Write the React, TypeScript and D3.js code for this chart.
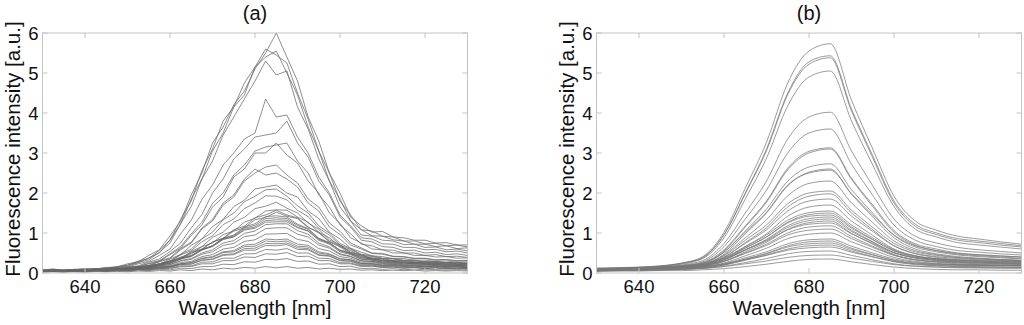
import React from "react";
import * as d3 from "d3";

// wavelength samples (nm)
const wavelengthsA = [630, 632.5, 635, 637.5, 640, 642.5, 645, 647.5, 650, 652.5, 655, 657.5, 660, 662.5, 665, 667.5, 670, 672.5, 675, 677.5, 680, 682.5, 685, 687.5, 690, 692.5, 695, 697.5, 700, 702.5, 705, 707.5, 710, 712.5, 715, 717.5, 720, 722.5, 725, 727.5, 730];
const wavelengthsB = [630, 635, 640, 645, 650, 655, 660, 665, 670, 675, 680, 685, 690, 695, 700, 705, 710, 715, 720, 725, 730];

// (a) raw spectra
const spectraA = [
  [.08,.10,.07,.09,.11,.10,.14,.15,.23,.28,.44,.58,.93,1.30,1.95,2.50,3.25,3.65,4.20,4.55,5.10,5.50,6.00,5.40,4.80,3.90,3.30,2.50,2.00,1.40,1.18,1.02,1.04,.90,.88,.82,.82,.75,.76,.70,.70],
  [.07,.09,.08,.09,.08,.11,.11,.16,.19,.30,.36,.57,.82,1.34,1.80,2.56,3.10,3.80,4.15,4.75,5.15,5.60,5.45,5.25,4.50,3.85,3.05,2.50,1.80,1.45,1.08,1.05,.92,.90,.80,.80,.73,.74,.68,.70,.65],
  [.06,.07,.06,.08,.10,.10,.13,.14,.20,.26,.38,.50,.83,1.22,1.85,2.35,3.05,3.50,4.15,4.45,5.15,5.40,5.55,5.00,4.45,3.65,3.05,2.30,1.85,1.30,1.08,.93,.92,.83,.80,.72,.72,.66,.68,.61,.63],
  [.05,.07,.06,.07,.08,.10,.09,.14,.17,.26,.33,.52,.75,1.24,1.66,2.35,2.80,3.45,3.90,4.35,4.80,5.30,4.95,5.05,4.15,3.60,2.85,2.30,1.65,1.30,.95,.92,.82,.80,.71,.72,.64,.65,.58,.60,.55],
  [.06,.07,.05,.08,.07,.10,.09,.13,.15,.23,.29,.44,.60,.98,1.32,1.84,2.20,2.70,3.00,3.35,3.50,4.35,3.90,3.95,3.40,3.00,2.40,2.00,1.45,1.18,.88,.85,.73,.72,.64,.64,.58,.59,.53,.55,.50],
  [.05,.06,.05,.07,.08,.07,.10,.10,.15,.18,.27,.35,.54,.75,1.13,1.46,2.00,2.35,2.85,3.10,3.40,3.45,3.50,3.80,3.25,2.90,2.30,1.95,1.40,1.15,.82,.78,.66,.64,.56,.57,.50,.52,.46,.48,.44],
  [.05,.05,.06,.06,.08,.07,.10,.09,.14,.16,.24,.31,.48,.66,.98,1.27,1.74,2.00,2.45,2.70,3.05,3.15,3.20,3.25,2.80,2.50,1.95,1.65,1.20,.98,.72,.68,.58,.57,.50,.50,.44,.46,.41,.42,.39],
  [.04,.06,.05,.05,.07,.06,.09,.09,.13,.15,.23,.29,.46,.62,.94,1.20,1.65,1.90,2.40,2.60,3.00,3.00,3.25,2.95,2.75,2.30,2.00,1.50,1.24,.88,.75,.60,.58,.50,.50,.44,.44,.40,.41,.37,.38],
  [.04,.05,.04,.06,.05,.08,.07,.10,.10,.15,.18,.28,.36,.58,.75,1.10,1.30,1.70,1.90,2.30,2.50,2.65,2.70,2.45,2.25,1.85,1.65,1.25,1.04,.75,.63,.50,.49,.42,.41,.37,.37,.33,.34,.31,.32],
  [.05,.06,.05,.07,.06,.08,.08,.11,.11,.16,.19,.30,.38,.61,.77,1.12,1.34,1.75,1.95,2.35,2.60,2.45,2.50,2.35,2.15,1.75,1.55,1.15,.96,.70,.60,.49,.47,.41,.40,.36,.36,.32,.33,.30,.31],
  [.04,.05,.04,.06,.06,.07,.08,.08,.11,.12,.18,.22,.35,.46,.69,.85,1.16,1.34,1.66,1.82,2.10,2.15,2.20,2.00,1.90,1.55,1.36,1.02,.85,.62,.52,.43,.41,.36,.36,.32,.32,.29,.30,.27,.28],
  [.03,.04,.05,.04,.06,.06,.07,.09,.09,.13,.15,.23,.30,.47,.60,.85,1.02,1.33,1.50,1.78,1.92,2.08,2.10,1.92,1.68,1.50,1.18,1.00,.74,.61,.47,.43,.37,.36,.32,.32,.28,.29,.26,.27,.25],
  [.05,.06,.05,.07,.06,.08,.07,.10,.10,.14,.16,.23,.29,.45,.56,.78,.93,1.21,1.35,1.61,1.75,1.93,1.92,1.83,1.57,1.41,1.12,.95,.70,.59,.45,.41,.36,.35,.31,.31,.27,.28,.25,.26,.24],
  [.04,.05,.05,.06,.05,.07,.08,.08,.11,.11,.16,.19,.28,.36,.54,.66,.89,1.02,1.27,1.39,1.61,1.67,1.77,1.62,1.50,1.25,1.09,.83,.70,.52,.45,.37,.36,.31,.31,.27,.28,.25,.26,.23,.24],
  [.06,.07,.06,.08,.07,.09,.08,.11,.11,.15,.16,.23,.28,.40,.48,.66,.75,.96,1.05,1.27,1.37,1.55,1.58,1.57,1.40,1.27,1.02,.88,.66,.56,.41,.38,.31,.30,.26,.26,.23,.24,.21,.22,.20],
  [.05,.06,.06,.05,.08,.07,.09,.08,.12,.12,.17,.20,.30,.35,.50,.59,.78,.87,1.08,1.17,1.38,1.45,1.57,1.45,1.38,1.15,1.00,.78,.65,.48,.42,.33,.31,.27,.27,.23,.24,.21,.22,.19,.21],
  [.07,.06,.07,.06,.09,.08,.10,.09,.13,.14,.19,.22,.31,.37,.52,.60,.77,.86,1.05,1.13,1.33,1.39,1.52,1.42,1.36,1.14,1.02,.79,.68,.51,.45,.35,.34,.29,.29,.26,.27,.24,.25,.22,.24],
  [.04,.05,.04,.06,.05,.08,.06,.09,.09,.13,.14,.20,.24,.35,.42,.58,.68,.87,.95,1.15,1.23,1.41,1.43,1.40,1.22,1.11,.87,.76,.56,.48,.35,.33,.27,.27,.23,.24,.21,.22,.19,.20,.18],
  [.06,.07,.06,.07,.06,.09,.07,.10,.10,.14,.15,.21,.25,.37,.43,.59,.68,.86,.93,1.12,1.19,1.36,1.38,1.36,1.19,1.09,.86,.75,.57,.49,.38,.36,.30,.30,.26,.27,.24,.25,.22,.23,.21],
  [.05,.06,.05,.07,.06,.08,.07,.10,.09,.13,.14,.20,.24,.35,.41,.57,.66,.84,.91,1.09,1.15,1.31,1.33,1.32,1.15,1.05,.82,.72,.53,.46,.34,.32,.27,.27,.23,.24,.21,.22,.19,.20,.17],
  [.08,.09,.07,.09,.08,.10,.09,.12,.12,.16,.17,.23,.27,.38,.44,.59,.67,.84,.90,1.07,1.12,1.27,1.28,1.28,1.13,1.05,.84,.74,.57,.50,.38,.36,.30,.31,.27,.28,.25,.26,.23,.25,.22],
  [.04,.05,.04,.06,.05,.07,.06,.09,.08,.12,.12,.18,.21,.31,.36,.50,.58,.75,.81,.99,1.05,1.21,1.23,1.23,1.06,.97,.75,.65,.48,.42,.31,.29,.24,.24,.20,.21,.18,.19,.16,.18,.15],
  [.06,.07,.06,.08,.07,.09,.08,.10,.09,.13,.13,.18,.21,.30,.34,.47,.53,.69,.74,.91,.95,1.11,1.13,1.13,.97,.90,.70,.62,.46,.41,.30,.29,.25,.25,.22,.23,.20,.21,.18,.20,.17],
  [.05,.06,.05,.07,.06,.08,.07,.09,.08,.11,.11,.16,.18,.26,.29,.41,.46,.60,.64,.79,.83,.97,.98,.99,.84,.79,.61,.55,.41,.37,.27,.27,.22,.22,.19,.20,.17,.18,.16,.17,.15],
  [.04,.05,.04,.06,.05,.07,.06,.08,.07,.10,.10,.14,.16,.23,.26,.37,.41,.53,.56,.70,.72,.85,.83,.85,.72,.69,.53,.48,.36,.33,.24,.23,.19,.20,.17,.18,.15,.17,.14,.16,.13],
  [.06,.07,.05,.07,.06,.08,.06,.09,.08,.11,.11,.15,.17,.23,.26,.36,.39,.51,.53,.66,.67,.80,.78,.80,.67,.65,.50,.46,.35,.33,.24,.24,.20,.21,.18,.19,.16,.18,.15,.17,.14],
  [.03,.04,.03,.05,.04,.06,.05,.07,.06,.09,.09,.13,.14,.21,.22,.32,.35,.46,.48,.61,.62,.74,.73,.75,.63,.61,.46,.43,.31,.29,.20,.20,.16,.17,.14,.15,.12,.14,.11,.13,.11],
  [.05,.06,.04,.07,.05,.07,.06,.08,.07,.10,.10,.14,.15,.22,.23,.32,.34,.44,.46,.57,.57,.69,.68,.71,.59,.58,.44,.42,.31,.30,.22,.22,.18,.19,.16,.17,.15,.16,.14,.15,.13],
  [.04,.05,.03,.06,.04,.06,.05,.07,.06,.09,.08,.12,.12,.18,.18,.27,.28,.37,.37,.48,.48,.59,.57,.61,.50,.50,.37,.36,.26,.25,.18,.18,.14,.15,.12,.14,.11,.13,.10,.12,.10],
  [.05,.06,.04,.06,.05,.07,.05,.08,.06,.09,.08,.11,.11,.16,.16,.23,.23,.31,.31,.40,.39,.48,.47,.51,.41,.42,.31,.31,.23,.23,.16,.17,.14,.15,.12,.14,.11,.13,.11,.12,.10],
  [.03,.04,.03,.05,.03,.05,.04,.06,.05,.07,.06,.09,.08,.12,.11,.16,.16,.22,.21,.28,.27,.34,.33,.36,.29,.30,.22,.23,.16,.17,.11,.12,.09,.11,.08,.10,.08,.09,.07,.09,.07],
  [.02,.03,.02,.03,.02,.04,.03,.04,.03,.05,.04,.06,.05,.08,.06,.10,.08,.12,.10,.14,.12,.16,.13,.16,.12,.14,.10,.12,.09,.10,.07,.08,.06,.07,.06,.07,.05,.06,.05,.06,.05],
];

// (b) smoothed spectra
const spectraB = [
  [.12,.13,.15,.18,.25,.41,1.02,2.12,3.27,4.75,5.55,5.73,4.32,3.10,1.92,1.30,1.07,.92,.85,.78,.72],
  [.10,.12,.14,.17,.24,.39,.96,2.00,3.10,4.50,5.28,5.43,4.10,2.93,1.80,1.22,1.00,.86,.80,.74,.68],
  [.11,.12,.14,.17,.24,.38,.95,1.98,3.06,4.46,5.22,5.38,4.05,2.88,1.75,1.17,.96,.82,.76,.70,.65],
  [.09,.10,.12,.16,.22,.36,.88,1.85,2.87,4.18,4.90,5.05,3.80,2.70,1.66,1.10,.90,.76,.70,.65,.60],
  [.10,.11,.13,.15,.20,.31,.74,1.50,2.30,3.35,3.90,4.02,3.05,2.18,1.35,.92,.75,.64,.58,.54,.50],
  [.08,.09,.11,.13,.18,.28,.66,1.35,2.07,3.00,3.50,3.60,2.72,1.94,1.20,.82,.66,.56,.52,.48,.45],
  [.10,.11,.12,.14,.18,.26,.58,1.18,1.80,2.62,3.04,3.13,2.37,1.70,1.06,.73,.60,.50,.46,.43,.40],
  [.07,.08,.10,.12,.16,.24,.55,1.15,1.77,2.58,3.00,3.10,2.34,1.66,1.02,.70,.56,.47,.43,.40,.37],
  [.09,.10,.11,.13,.17,.23,.52,1.05,1.60,2.30,2.65,2.73,2.08,1.50,.94,.65,.53,.45,.41,.38,.35],
  [.06,.07,.09,.11,.14,.20,.47,.98,1.50,2.18,2.52,2.60,1.97,1.40,.88,.60,.48,.41,.37,.34,.32],
  [.11,.12,.13,.15,.18,.25,.52,1.02,1.52,2.20,2.50,2.57,1.98,1.45,.95,.68,.56,.49,.45,.42,.40],
  [.08,.09,.10,.12,.15,.21,.45,.88,1.33,1.93,2.24,2.30,1.75,1.26,.80,.56,.46,.39,.36,.33,.31],
  [.10,.11,.12,.13,.16,.22,.43,.82,1.20,1.73,2.00,2.05,1.57,1.14,.74,.53,.44,.38,.35,.33,.31],
  [.07,.08,.09,.11,.14,.19,.39,.76,1.13,1.65,1.92,1.98,1.50,1.08,.68,.48,.39,.33,.30,.28,.26],
  [.09,.10,.11,.12,.15,.21,.40,.74,1.08,1.55,1.80,1.85,1.42,1.04,.68,.49,.41,.36,.33,.31,.29],
  [.06,.07,.08,.10,.13,.18,.35,.66,.98,1.42,1.65,1.70,1.30,.94,.60,.43,.35,.30,.28,.26,.24],
  [.10,.11,.12,.13,.16,.22,.38,.66,.95,1.32,1.51,1.55,1.20,.88,.58,.43,.36,.32,.30,.28,.27],
  [.08,.09,.10,.11,.14,.19,.34,.62,.90,1.27,1.46,1.50,1.15,.84,.55,.40,.33,.29,.27,.25,.24],
  [.11,.12,.13,.14,.17,.22,.37,.63,.90,1.25,1.42,1.45,1.12,.83,.56,.42,.36,.33,.31,.30,.29],
  [.07,.08,.09,.10,.13,.18,.32,.58,.84,1.18,1.36,1.40,1.07,.78,.51,.37,.31,.27,.25,.23,.22],
  [.09,.10,.11,.12,.14,.19,.33,.58,.82,1.14,1.31,1.35,1.04,.77,.51,.38,.32,.28,.26,.25,.24],
  [.05,.06,.07,.08,.11,.16,.29,.53,.77,1.09,1.26,1.30,.99,.72,.46,.33,.27,.23,.21,.20,.19],
  [.12,.12,.13,.14,.16,.21,.34,.57,.80,1.08,1.22,1.25,.98,.74,.50,.39,.34,.31,.30,.29,.28],
  [.08,.09,.10,.11,.13,.17,.29,.50,.72,1.00,1.15,1.18,.91,.67,.45,.33,.28,.25,.23,.22,.21],
  [.10,.10,.11,.12,.14,.18,.29,.49,.69,.95,1.07,1.10,.86,.64,.44,.33,.29,.26,.25,.24,.23],
  [.06,.07,.08,.09,.11,.15,.25,.43,.62,.86,.97,1.00,.78,.58,.39,.29,.24,.21,.20,.19,.18],
  [.09,.09,.10,.11,.12,.15,.23,.38,.53,.73,.83,.85,.67,.50,.35,.27,.23,.21,.20,.19,.18],
  [.05,.06,.06,.07,.09,.12,.20,.34,.49,.68,.78,.80,.62,.46,.31,.23,.19,.17,.16,.15,.14],
  [.10,.10,.11,.11,.13,.15,.22,.35,.48,.65,.73,.75,.59,.45,.32,.25,.22,.20,.19,.19,.18],
  [.07,.07,.08,.09,.10,.13,.20,.32,.45,.60,.68,.70,.55,.41,.28,.21,.18,.16,.15,.15,.14],
  [.11,.11,.12,.12,.13,.16,.22,.33,.44,.57,.63,.65,.52,.40,.29,.23,.21,.19,.19,.18,.18],
  [.06,.07,.07,.08,.09,.11,.17,.26,.36,.48,.54,.55,.44,.33,.23,.17,.15,.13,.13,.12,.12],
  [.08,.08,.09,.09,.10,.12,.16,.23,.30,.39,.44,.45,.37,.29,.21,.17,.15,.14,.13,.13,.13],
  [.04,.05,.05,.06,.06,.08,.11,.16,.22,.29,.34,.35,.28,.21,.15,.11,.09,.08,.08,.07,.07],
];

const xTicks = [640, 660, 680, 700, 720];
const yTicks = [0, 1, 2, 3, 4, 5, 6];
const xLabel = "Wavelength [nm]";
const yLabel = "Fluorescence intensity [a.u.]";

const W = 1024;
const H = 325;
const top = 33;
const bottom = 273;
const font = "'Liberation Sans', Arial, Helvetica, sans-serif";

function Panel(props: {
  id: string;
  left: number;
  right: number;
  title: string;
  wl: number[];
  data: number[][];
  smooth: boolean;
  stroke: string;
}) {
  const { id, left, right, title, wl, data, smooth, stroke } = props;
  const x = d3.scaleLinear().domain([630, 730]).range([left, right]);
  const y = d3.scaleLinear().domain([0, 6]).range([bottom, top]);

  const line = d3
    .line<number>()
    .x((d, i) => x(wl[i]))
    .y((d) => y(d))
    .curve(smooth ? d3.curveMonotoneX : d3.curveLinear);

  const tick = 5;
  const boxColor = "#c4c4c4";

  return (
    <g>
      <defs>
        <clipPath id={id}>
          <rect x={left} y={top} width={right - left} height={bottom - top} />
        </clipPath>
      </defs>
      <g clipPath={`url(#${id})`}>
        {data.map((s, i) => (
          <path key={i} d={line(s) || ""} fill="none" stroke={stroke} strokeWidth={0.75} />
        ))}
      </g>
      {/* box */}
      <rect x={left} y={top} width={right - left} height={bottom - top} fill="none" stroke={boxColor} strokeWidth={1} />
      {xTicks.map((t) => (
        <g key={"x" + t}>
          <line x1={x(t)} x2={x(t)} y1={bottom} y2={bottom - tick} stroke={boxColor} />
          <line x1={x(t)} x2={x(t)} y1={top} y2={top + tick} stroke={boxColor} />
          <text x={x(t)} y={293} textAnchor="middle" fontSize={18.5} fontFamily={font} fill="#111">
            {t}
          </text>
        </g>
      ))}
      {yTicks.map((t) => (
        <g key={"y" + t}>
          <line x1={left} x2={left + tick} y1={y(t)} y2={y(t)} stroke={boxColor} />
          <line x1={right} x2={right - tick} y1={y(t)} y2={y(t)} stroke={boxColor} />
          <text x={left - 4} y={y(t) + 6.5} textAnchor="end" fontSize={18.5} fontFamily={font} fill="#111">
            {t}
          </text>
        </g>
      ))}
      <text x={(left + right) / 2} y={20} textAnchor="middle" fontSize={20} fontFamily={font} fill="#111">
        {title}
      </text>
      <text x={(left + right) / 2} y={315} textAnchor="middle" fontSize={20.5} fontFamily={font} fill="#111">
        {xLabel}
      </text>
      <text
        transform={`translate(${left - 23},${(top + bottom) / 2 - 4}) rotate(-90)`}
        textAnchor="middle"
        fontSize={20.5}
        fontFamily={font}
        fill="#111"
      >
        {yLabel}
      </text>
    </g>
  );
}

export default function App() {
  return (
    <svg
      width={W}
      height={H}
      viewBox={`0 0 ${W} ${H}`}
      style={{ position: "absolute", left: 0, top: 0, background: "#fff" }}
    >
      <rect width={W} height={H} fill="#fff" />
      <Panel id="clipA" left={42.5} right={467.5} title="(a)" wl={wavelengthsA} data={spectraA} smooth={false} stroke="#686868" />
      <Panel id="clipB" left={596.5} right={1021.5} title="(b)" wl={wavelengthsB} data={spectraB} smooth={true} stroke="#7a7a7a" />
    </svg>
  );
}
